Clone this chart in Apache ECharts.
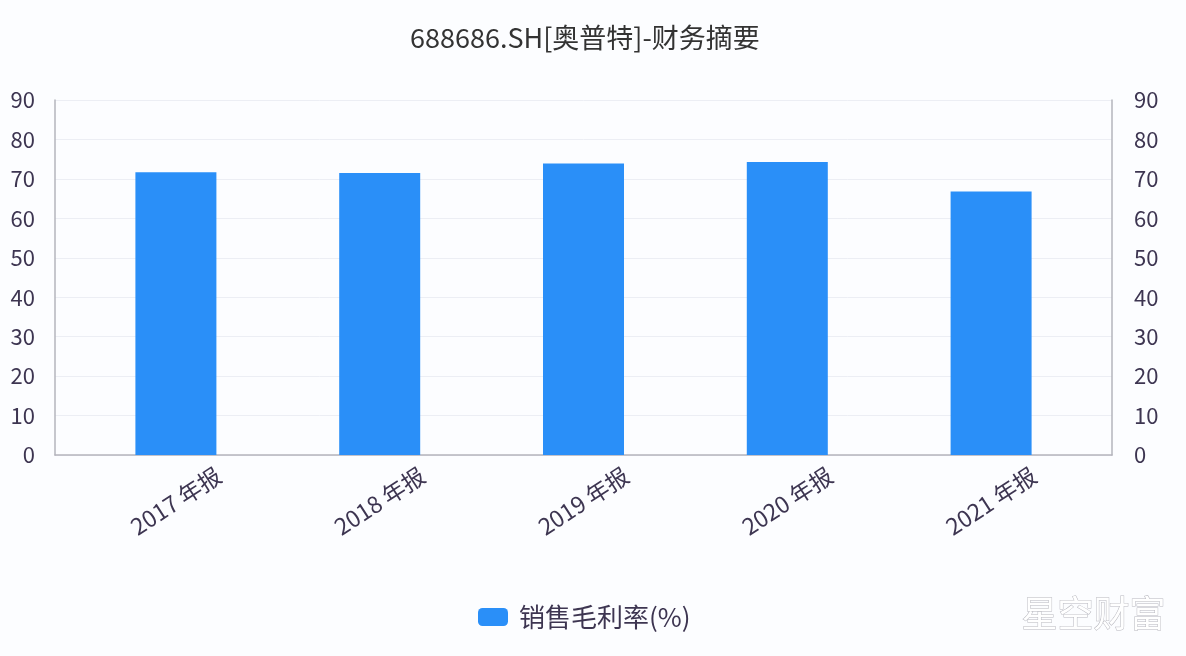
<!DOCTYPE html>
<html>
<head>
<meta charset="utf-8">
<script src="https://cdn.jsdelivr.net/npm/echarts@6/dist/echarts.min.js"></script>
<style>
html,body{margin:0;padding:0;background:#fcfdff;}
#chart{width:1186px;height:656px;}
</style>
</head>
<body>
<div id="chart"></div>
<script>
const titleText = '688686.SH[奥普特]-财务摘要';
const categories = ['2017 年报', '2018 年报', '2019 年报', '2020 年报', '2021 年报'];
const seriesName = '销售毛利率(%)';
const grossMargin = [71.7, 71.5, 73.9, 74.3, 66.8];
const yMin = 0, yMax = 90, yStep = 10;

const FONT = '"Noto Sans CJK SC", "Noto Sans", sans-serif';
const LABEL = '#3d3551';

const chart = echarts.init(document.getElementById('chart'), null, {renderer: 'canvas'});
chart.setOption({
  backgroundColor: '#fcfdff',
  textStyle: {fontFamily: FONT},
  title: {
    text: titleText, left: 405, top: 19,
    textStyle: {fontSize: 27, fontWeight: 'normal', color: '#333', fontFamily: FONT}
  },
  legend: {
    bottom: 21, left: 473,
    itemWidth: 30, itemHeight: 18, itemGap: 10,
    icon: 'roundRect',
    textStyle: {fontSize: 26, color: LABEL, fontFamily: FONT, padding: [0, 0, 0, 6]},
    data: [seriesName]
  },
  grid: [
    {left: 55, right: 74, top: 100, bottom: 201},
    {left: 74, right: 93, top: 100, bottom: 201}
  ],
  xAxis: [
    {gridIndex: 0, type: 'category', data: categories,
     axisLine: {show: true, lineStyle: {color: '#b4b4bc', width: 1.5}},
     axisTick: {show: false}, axisLabel: {show: false}, splitLine: {show: false}},
    {gridIndex: 1, type: 'category', data: categories,
     axisLine: {show: false}, axisTick: {show: false},
     axisLabel: {rotate: 33, align: 'center', verticalAlign: 'middle', margin: 46,
       fontSize: 23, color: LABEL, fontFamily: FONT}}
  ],
  yAxis: [
    {gridIndex: 0, type: 'value', position: 'left', min: yMin, max: yMax, interval: yStep,
     axisLine: {show: true, lineStyle: {color: '#b4b4bc', width: 1.5}},
     axisTick: {show: false},
     axisLabel: {fontSize: 22, color: LABEL, margin: 20, fontFamily: FONT},
     splitLine: {show: true, lineStyle: {color: '#eceef4'}}},
    {gridIndex: 0, type: 'value', position: 'right', min: yMin, max: yMax, interval: yStep,
     axisLine: {show: true, lineStyle: {color: '#b4b4bc', width: 1.5}},
     axisTick: {show: false},
     axisLabel: {fontSize: 22, color: LABEL, margin: 22, fontFamily: FONT},
     splitLine: {show: false}},
    {gridIndex: 1, type: 'value', min: yMin, max: yMax, show: false, splitLine: {show: false}}
  ],
  series: [{
    name: seriesName, type: 'bar', xAxisIndex: 1, yAxisIndex: 2,
    data: grossMargin, barWidth: 81,
    itemStyle: {color: '#2a8ff8'}
  }],
  graphic: [{
    type: 'text', right: 20, bottom: 24, silent: true,
    style: {
      text: '星空财富', fontSize: 36, fontFamily: FONT,
      fill: '#ffffff', stroke: '#b8b8bf', lineWidth: 1,
      shadowColor: 'rgba(0,0,0,0.25)', shadowBlur: 2, shadowOffsetX: 1, shadowOffsetY: 1
    }
  }]
});
</script>
</body>
</html>
